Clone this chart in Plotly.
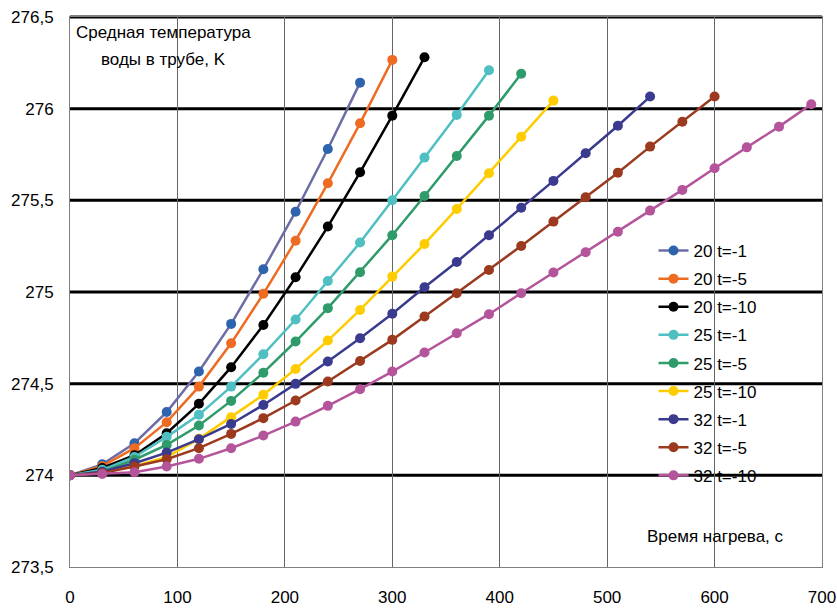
import plotly.graph_objects as go

# Heating time, s (sampled every 30 s)
time_s = [0, 30, 60, 90, 120, 150, 180, 210, 240, 270, 300, 330, 360, 390,
          420, 450, 480, 510, 540, 570, 600, 630, 660, 690]

names = ["20 t=-1", "20 t=-5", "20 t=-10",
         "25 t=-1", "25 t=-5", "25 t=-10",
         "32 t=-1", "32 t=-5", "32 t=-10"]

# Mean water temperature in the pipe, K
t20_m1 = [274.0, 274.06, 274.175, 274.345, 274.566, 274.826, 275.124, 275.438,
          275.78, 276.142]
t20_m5 = [274.0, 274.05, 274.148, 274.29, 274.484, 274.72, 274.99, 275.28,
          275.593, 275.92, 276.266]
t20_m10 = [274.0, 274.04, 274.11, 274.23, 274.39, 274.59, 274.82, 275.08,
           275.357, 275.653, 275.962, 276.28]
t25_m1 = [274.0, 274.03, 274.1, 274.21, 274.33, 274.484, 274.66, 274.85,
          275.06, 275.27, 275.5, 275.733, 275.966, 276.21]
t25_m5 = [274.0, 274.02, 274.085, 274.166, 274.272, 274.406, 274.56, 274.73,
          274.912, 275.108, 275.31, 275.524, 275.742, 275.962, 276.19]
t25_m10 = [274.0, 274.015, 274.05, 274.1, 274.199, 274.317, 274.439, 274.58,
           274.735, 274.902, 275.084, 275.262, 275.453, 275.648, 275.847,
           276.044]
t32_m1 = [274.0, 274.02, 274.066, 274.124, 274.197, 274.28, 274.384, 274.499,
          274.621, 274.748, 274.881, 275.026, 275.164, 275.31, 275.46,
          275.606, 275.757, 275.907, 276.066]
t32_m5 = [274.0, 274.013, 274.048, 274.088, 274.148, 274.226, 274.312, 274.408,
          274.512, 274.624, 274.739, 274.866, 274.993, 275.12, 275.251,
          275.384, 275.517, 275.651, 275.793, 275.929, 276.066]
t32_m10 = [274.0, 274.007, 274.017, 274.048, 274.09, 274.148, 274.217, 274.293,
           274.379, 274.47, 274.566, 274.67, 274.775, 274.879, 274.993,
           275.106, 275.217, 275.329, 275.444, 275.557, 275.675, 275.789,
           275.902, 276.024]

series = [t20_m1, t20_m5, t20_m10, t25_m1, t25_m5, t25_m10, t32_m1, t32_m5, t32_m10]

line_colors = ["#6c6da5", "#ee6b22", "#000000", "#4fbfc1", "#2f9b6b",
               "#ffcc00", "#3a3a8f", "#9b3a1f", "#b4559c"]
marker_colors = ["#2e64ae", "#ee6b22", "#000000", "#4fbfc1", "#2f9b6b",
                 "#ffcc00", "#3a3a8f", "#9b3a1f", "#b4559c"]

y_ticks = [273.5, 274, 274.5, 275, 275.5, 276, 276.5]
y_tick_text = ["273,5", "274", "274,5", "275", "275,5", "276", "276,5"]
x_ticks = [0, 100, 200, 300, 400, 500, 600, 700]
y_min, y_max = 273.5, 276.5

FONT = "Liberation Sans, Arial, sans-serif"

fig = go.Figure()

# Horizontal grid drawn as thick black rules (paper-referenced so the top
# rule is not clipped at the plot edge)
for yv in y_ticks[1:]:
    fig.add_shape(type="line", xref="paper", yref="paper", x0=0, x1=1,
                  y0=(yv - y_min) / (y_max - y_min),
                  y1=(yv - y_min) / (y_max - y_min),
                  line=dict(color="#000000", width=3), layer="below")

for i, (name, vals) in enumerate(zip(names, series)):
    fig.add_trace(go.Scatter(
        x=time_s[:len(vals)], y=vals, name=name, mode="lines+markers",
        legendgroup=name,
        line=dict(color=line_colors[i], width=2.5),
        marker=dict(color=marker_colors[i], size=10),
    ))

ann_font = dict(family=FONT, size=17, color="#000")
fig.add_annotation(text="Средная температура", xref="paper", yref="paper",
                   x=(163 - 69.5) / 752, y=(567 - 33) / 550, showarrow=False,
                   xanchor="center", yanchor="middle", font=ann_font)
fig.add_annotation(text="воды в трубе, K", xref="paper", yref="paper",
                   x=(163 - 69.5) / 752, y=(567 - 60) / 550, showarrow=False,
                   xanchor="center", yanchor="middle", font=ann_font)
fig.add_annotation(text="Время нагрева, с", xref="paper", yref="paper",
                   x=(715 - 69.5) / 752, y=(567 - 536) / 550, showarrow=False,
                   xanchor="center", yanchor="middle", font=ann_font)

fig.update_layout(
    width=837, height=608,
    margin=dict(l=69.5, r=15.3, t=17, b=41, autoexpand=False),
    paper_bgcolor="white", plot_bgcolor="white",
    font=dict(family=FONT, size=17, color="#000"),
    showlegend=True,
    legend=dict(x=(653 - 69.5) / 752, y=(567 - 233) / 550,
                xanchor="left", yanchor="top",
                bgcolor="rgba(0,0,0,0)", font=dict(family=FONT, size=17),
                tracegroupgap=3, itemwidth=30),
    xaxis=dict(range=[0, 700], tickvals=x_ticks, showgrid=True,
               gridcolor="#666666", gridwidth=1, zeroline=False,
               showline=True, linecolor="#808080", linewidth=1, mirror=True,
               ticks="", ticklabelstandoff=15, automargin=False),
    yaxis=dict(range=[y_min, y_max], tickvals=y_ticks, ticktext=y_tick_text,
               showgrid=False, zeroline=False,
               showline=True, linecolor="#808080", linewidth=1, mirror=True,
               ticks="", ticklabelstandoff=12, automargin=False),
)

fig.write_html("out.html")
